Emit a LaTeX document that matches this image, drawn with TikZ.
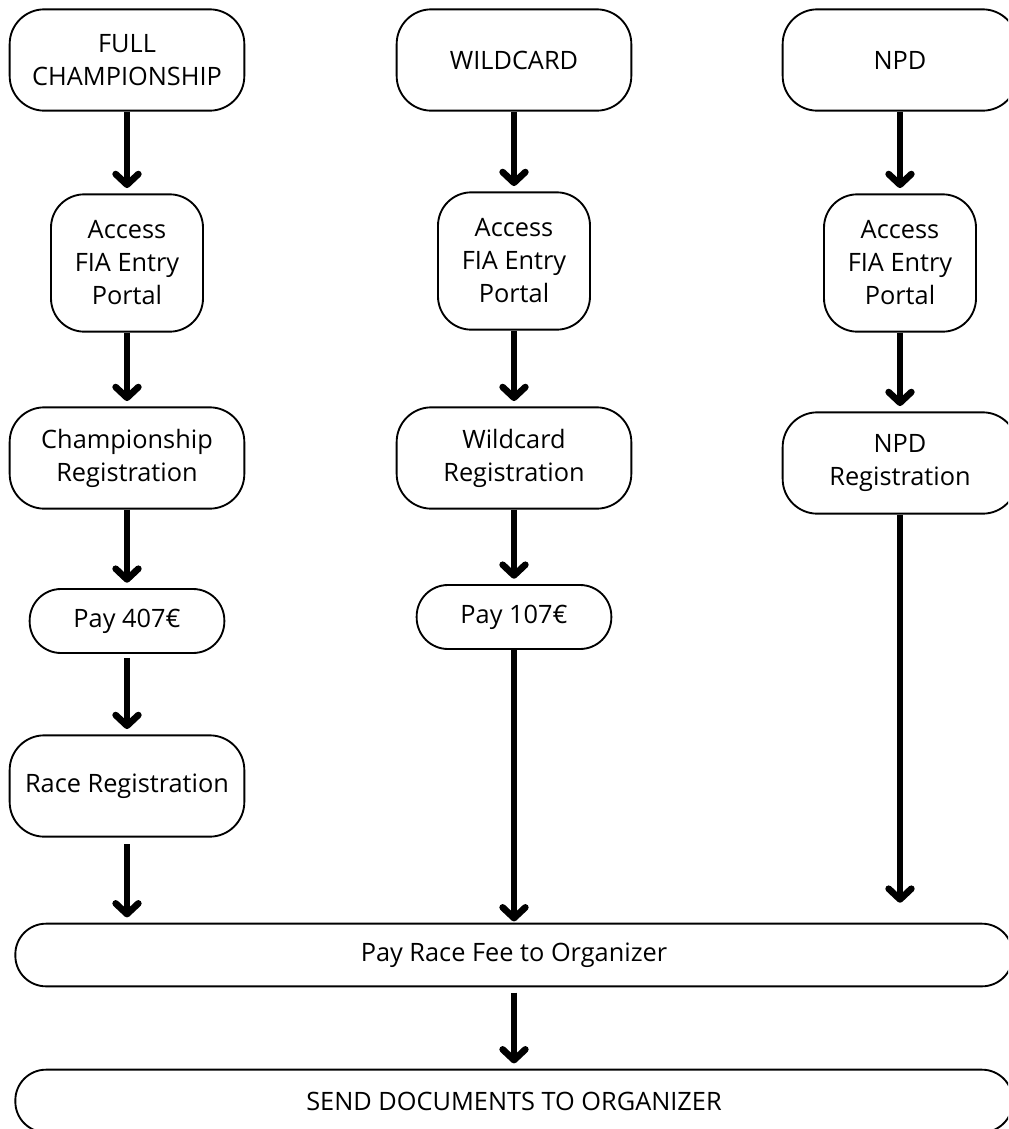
\documentclass[tikz,border=0pt]{standalone}
\usepackage{fontspec}
\setmainfont{Open Sans}
\usetikzlibrary{arrows.meta}

\begin{document}
\begin{tikzpicture}[x=0.75pt,y=-0.75pt,
    box/.style={draw,line width=1.4pt,align=center,inner sep=0pt,
      font=\fontsize{19}{24.75}\selectfont},
    bigbox/.style={box,rounded corners=26pt,minimum width=176pt,minimum height=76pt},
    accbox/.style={box,rounded corners=25pt,minimum width=114pt,minimum height=103pt},
    paybox/.style={box,rounded corners=23.5pt,minimum width=146pt,minimum height=48pt},
    widebox/.style={box,rounded corners=23pt,minimum width=748pt,minimum height=47pt},
    flow/.style={line width=5pt,shorten >=4pt,
      -{Straight Barb[length=8pt,width=17pt,line cap=round,line join=round]}}]
    \useasboundingbox (0,0) rectangle (1008,1129);
    \clip (0,0) rectangle (1008,1129);

            \node[bigbox] (full) at (127,60) {FULL\\CHAMPIONSHIP};
            \node[bigbox] (wild) at (514,60) {WILDCARD};
            \node[bigbox] (npd) at (900,60) {NPD};

            \node[accbox] (acc1) at (127,263) {Access\\FIA Entry\\Portal};
            \node[accbox] (acc2) at (514,261) {Access\\FIA Entry\\Portal};
            \node[accbox] (acc3) at (900,263) {Access\\FIA Entry\\Portal};

            \node[bigbox] (champreg) at (127,458) {Championship\\Registration};
            \node[bigbox] (wildreg) at (514,458) {Wildcard\\Registration};
            \node[bigbox] (npdreg) at (900,463) {NPD\\Registration};

            \node[paybox] (pay1) at (127,621) {Pay 407€};
            \node[paybox] (pay2) at (514,617) {Pay 107€};

            \node[bigbox] (racereg) at (127,786) {Race Registration};

            \node[widebox] (fee) at (514,955) {Pay Race Fee to Organizer};
            \node[widebox] (docs) at (514,1101) {SEND DOCUMENTS TO ORGANIZER};

            \draw[flow] (full) -- (acc1);
            \draw[flow] (acc1) -- (champreg);
            \draw[flow] (champreg) -- (pay1);
            \draw[flow,shorten <=3pt] (pay1) -- (racereg);
            \draw[flow,shorten <=5pt] (racereg) -- (racereg |- fee.north);

            \draw[flow] (wild) -- (acc2);
            \draw[flow] (acc2) -- (wildreg);
            \draw[flow] (wildreg) -- (pay2);
            \draw[flow,shorten >=1pt] (pay2) -- (fee);

            \draw[flow] (npd) -- (acc3);
            \draw[flow] (acc3) -- (npdreg);
            \draw[flow,shorten >=15pt] (npdreg) -- (npdreg |- fee.north);

            \draw[flow,shorten <=4pt] (fee) -- (docs);
        \end{tikzpicture}
\end{document}
